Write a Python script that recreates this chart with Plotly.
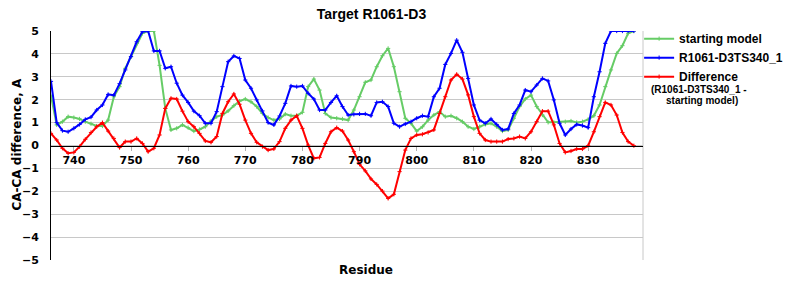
import plotly.graph_objects as go

residues = list(range(736, 839))

starting_model = [
    2.17, 0.9, 1.04, 1.26, 1.22, 1.16, 1.04, 0.95, 0.85, 0.85,
    1.11, 2.13, 2.57, 3.37, 3.88, 4.46, 4.9, 5.0, 5.0, 3.5,
    1.62, 0.68, 0.75, 0.9, 0.78, 0.63, 0.7, 0.82, 1.07, 1.26,
    1.33, 1.51, 1.74, 1.94, 2.03, 1.91, 1.7, 1.4, 1.22, 1.11,
    1.16, 1.37, 1.3, 1.3, 1.45, 2.57, 2.9, 2.42, 1.4, 1.22,
    1.19, 1.16, 1.11, 1.55, 2.13, 2.76, 2.86, 3.44, 3.92, 4.24,
    3.44, 2.35, 1.19, 0.97, 0.63, 0.82, 1.11, 1.33, 1.48, 1.26,
    1.3, 1.19, 1.04, 0.82, 0.72, 0.82, 0.92, 0.97, 0.82, 0.63,
    0.68, 1.19, 1.7, 2.03, 2.2, 1.7, 1.33, 1.01, 1.01, 1.04,
    1.04, 1.07, 1.01, 1.04, 1.14, 1.3, 1.77, 2.57, 3.3, 4.02,
    4.36, 4.9, 5.0,
]

model_ts340 = [
    2.8, 1.0, 0.65, 0.6, 0.75, 0.92, 1.14, 1.24, 1.55, 1.77,
    2.23, 2.2, 2.7, 3.3, 3.88, 4.53, 4.97, 5.0, 4.13, 4.13,
    3.37, 3.44, 2.72, 2.2, 1.88, 1.5, 1.3, 0.97, 0.97, 1.48,
    2.57, 3.66, 3.91, 3.8, 2.86, 2.5, 1.99, 1.51, 1.0, 0.9,
    1.29, 1.84, 2.6, 2.57, 2.6, 2.28, 2.03, 1.55, 1.55, 1.88,
    2.17, 1.7, 1.33, 1.36, 1.38, 1.38, 1.3, 1.88, 1.91, 1.7,
    0.97, 0.82, 0.94, 1.04, 1.19, 1.3, 1.26, 2.13, 2.5, 3.54,
    4.02, 4.6, 4.07, 2.93, 1.77, 1.11, 0.97, 1.16, 0.92, 0.68,
    0.72, 1.4, 1.77, 2.42, 2.35, 2.64, 2.93, 2.82, 1.99, 0.97,
    0.46, 0.72, 0.92, 0.87, 0.78, 2.13, 3.22, 4.46, 5.0, 5.0,
    5.0, 5.0, 5.0,
]

difference = [
    0.53, 0.24, -0.12, -0.34, -0.3, -0.05, 0.27, 0.57, 0.82, 1.0,
    0.63, 0.31, -0.09, 0.17, 0.17, 0.31, 0.09, -0.27, -0.12, 0.46,
    1.62, 2.06, 2.03, 1.5, 1.04, 0.82, 0.53, 0.2, 0.14, 0.39,
    1.4, 1.91, 2.25, 1.8, 1.11, 0.53, 0.14, -0.05, -0.2, -0.15,
    0.17, 0.75, 1.11, 1.3, 0.75, 0.02, -0.56, -0.52, 0.09, 0.6,
    0.78, 0.63, 0.24, -0.27, -0.82, -1.11, -1.46, -1.7, -1.99, -2.31,
    -2.13, -1.14, -0.2, 0.31, 0.46, 0.49, 0.57, 0.68, 1.4, 2.13,
    2.86, 3.11, 2.9, 2.21, 1.26, 0.53, 0.24, 0.17, 0.17, 0.17,
    0.28, 0.31, 0.39, 0.31, 0.6, 1.04, 1.5, 1.5, 0.9, 0.09,
    -0.3, -0.24, -0.15, -0.15, -0.01, 0.6, 1.26, 1.88, 1.77, 1.33,
    0.57, 0.17, -0.01,
]

x_ticks = [740, 750, 760, 770, 780, 790, 800, 810, 820, 830]
y_ticks = [-5, -4, -3, -2, -1, 0, 1, 2, 3, 4, 5]

series = [
    ("starting model", starting_model, "#66cc66"),
    ("R1061-D3TS340_1", model_ts340, "#0000ff"),
    ("Difference", difference, "#ff0000"),
]

W, H = 800, 300
L, R, T, B = 51, 139, 31, 40
PW, PH = W - L - R, H - T - B

fig = go.Figure()
for name, vals, col in series:
    fig.add_trace(go.Scatter(
        x=residues, y=vals, name="<b>" + name + "</b>", mode="lines+markers",
        line=dict(color=col, width=2),
        marker=dict(symbol="cross-thin", size=3, color=col,
                    line=dict(color=col, width=1)),
        cliponaxis=True,
    ))

axis_font = dict(family="DejaVu Sans", size=11, color="black", weight="bold")
fig.update_layout(
    width=W, height=H,
    margin=dict(l=L, r=R, t=T, b=B),
    paper_bgcolor="white", plot_bgcolor="white",
    title=dict(text="<b>Target R1061-D3</b>", x=371.5 / W, xref="container",
               xanchor="center", y=1 - 14 / H, yref="container", yanchor="middle",
               font=dict(family="Liberation Sans", size=14, color="black")),
    xaxis=dict(range=[736, 839.6], tickvals=x_ticks, ticktext=[str(v) for v in x_ticks],
               anchor="free", position=0.5, showline=True, linecolor="black", linewidth=1,
               ticks="outside", ticklen=4, tickcolor="#b0b0b0", showgrid=False,
               zeroline=False, tickfont=axis_font),
    yaxis=dict(range=[-5, 5], tickvals=y_ticks, showgrid=True, gridcolor="#c8c8c8",
               gridwidth=1, zeroline=False, showline=True, linecolor="black", linewidth=1,
               ticks="", tickfont=axis_font, ticklabelstandoff=9),
    showlegend=True,
    legend=dict(x=(657 - L) / PW, xanchor="left", y=1.03, yanchor="top",
                font=dict(family="Liberation Sans", size=12, color="black"),
                bgcolor="rgba(0,0,0,0)", tracegroupgap=0, itemwidth=30),
    font=dict(family="Liberation Sans", color="black"),
)

# plot frame (grey right edge)
fig.add_shape(type="line", xref="paper", yref="paper", x0=1, x1=1, y0=0, y1=1,
              line=dict(color="#c8c8c8", width=1), layer="below")

fig.add_annotation(text="<b>(R1061-D3TS340_1 -</b>", xref="paper", yref="paper",
                   x=(667 - L) / PW, y=(H - B - 89) / PH,
                   xanchor="left", yanchor="middle", showarrow=False,
                   font=dict(family="Liberation Sans", size=10, color="black"))
fig.add_annotation(text="<b>starting model)</b>", xref="paper", yref="paper",
                   x=(683 - L) / PW, y=(H - B - 100) / PH,
                   xanchor="left", yanchor="middle", showarrow=False,
                   font=dict(family="Liberation Sans", size=10, color="black"))

# axis titles
fig.add_annotation(text="<b>Residue</b>", xref="paper", yref="paper",
                   x=(376 - L) / PW, y=(H - B - 270) / PH,
                   xanchor="center", yanchor="middle", showarrow=False,
                   font=dict(family="DejaVu Sans", size=12, color="black"))
fig.add_annotation(text="<b>CA-CA difference, A</b>", xref="paper", yref="paper",
                   x=(15.5 - L) / PW, y=(H - B - 145) / PH,
                   xanchor="center", yanchor="middle", showarrow=False, textangle=-90,
                   font=dict(family="DejaVu Sans", size=12, color="black"))

fig.write_html("out.html")
